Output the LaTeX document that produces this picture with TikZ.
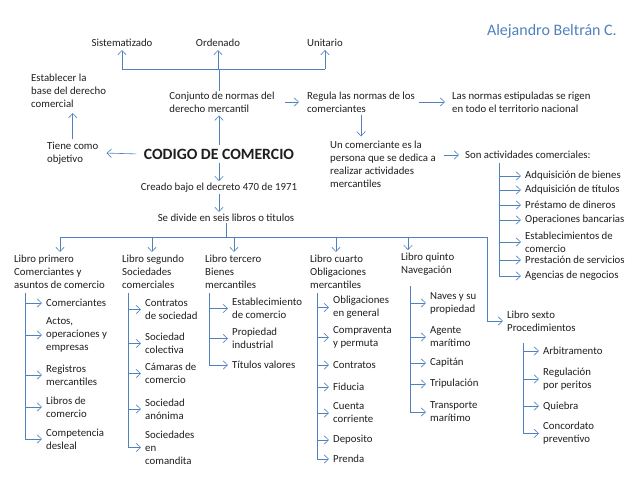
\documentclass[tikz,border=0pt]{standalone}
\usepackage{fontspec}
\setmainfont{Carlito}
\usetikzlibrary{arrows.meta,positioning,calc}
\definecolor{link}{HTML}{4F81BD}
\definecolor{ink}{HTML}{1E1E1E}
\definecolor{author}{HTML}{4F81BD}
\tikzset{
  txt/.style={anchor=west, align=left, inner xsep=4pt, inner ysep=1pt,
              font=\fontsize{10.8}{13}\selectfont, text=ink},
  mid/.style={txt, anchor=center},
  arrow/.style={-{Straight Barb[length=1.6mm,width=3mm]}, line width=0.6pt, draw=link},
  trunk/.style={line width=1pt, draw=link}
}

\begin{document}
\begin{tikzpicture}[x=1pt,y=-1pt]
  \useasboundingbox (0,0) rectangle (638,479);

  \node[anchor=east, font=\fontsize{16}{18}\selectfont, text=author, inner sep=0pt] (autor) at (617,31) {Alejandro Beltrán C.};

  % centre of the map
  \node[font=\fontsize{15.7}{18}\selectfont\bfseries, text=ink] (codigo) at (219,154) {CODIGO DE COMERCIO};
  \node[mid] (conj) at (222,102) {Conjunto de normas del\\derecho mercantil};
  \node[mid] (sist) at (122,43) {Sistematizado};
  \node[mid] (orden) at (218,43) {Ordenado};
  \node[mid] (unit) at (325,43) {Unitario};
  \coordinate (topbar) at (219,69);
  \draw[trunk] (codigo.north |- conj.north) -- (topbar);
  \draw[trunk] (sist |- topbar) -- (unit |- topbar);
  \foreach \n in {sist,orden,unit}
    {\draw[arrow,shorten >=2pt] (\n |- topbar) -- (\n.south);}
  \draw[arrow,shorten >=2pt] (codigo.north) -- (codigo.north |- conj.south);

  \node[txt] (tiene) at (43,153) {Tiene como\\objetivo};
  \node[txt] (estab) at (27,91) {Establecer la\\base del derecho\\comercial};
  \draw[arrow,shorten >=4pt,shorten <=4pt] (codigo.west) -- (tiene.east);
  \draw[arrow,shorten >=4pt,shorten <=2pt] (tiene.north) -- (tiene.north |- estab.south);

  \node[txt] (regula) at (303,102) {Regula las normas de los\\comerciantes};
  \node[txt] (normas) at (448,102) {Las normas estipuladas se rigen\\en todo el territorio nacional};
  \draw[arrow,shorten >=4pt,shorten <=6pt] (conj.east) -- (regula.west);
  \draw[arrow,shorten >=3pt] (regula.east) -- (normas.west);

  \node[txt] (comer) at (326,164) {Un comerciante es la\\persona que se dedica a\\realizar actividades\\mercantiles};
  \node[txt] (son) at (461,155) {Son actividades comerciales:};
  \draw[arrow,shorten >=3pt,shorten <=2pt] (regula.south) -- (regula.south |- comer.north);
  \draw[arrow,shorten >=2pt,shorten <=4pt] (comer.east |- son) -- (son.west);

  % actividades comerciales
  \coordinate (acttrunk) at (499,163);
  \foreach \y/\lab [count=\k] in {176/Adquisición de bienes, 190/Adquisición de títulos,
      205/Préstamo de dineros, 220/Operaciones bancarias, 242/{Establecimientos de\\comercio},
      260/Prestación de servicios, 276/Agencias de negocios} {
    \node[txt] (act\k) at (521,\y) {\lab};
    \draw[arrow] (acttrunk |- act\k.west) -- (act\k.west);
  }
  \draw[trunk] (acttrunk) -- (acttrunk |- act7.west);

  \node[mid] (creado) at (219,188) {Creado bajo el decreto 470 de 1971};
  \node[mid] (divide) at (226,218) {Se divide en seis libros o titulos};
  \draw[arrow,shorten >=1pt] (codigo.south) -- (creado.north);
  \draw[arrow,shorten >=1pt] (creado.south) -- (creado.south |- divide.north);

  % libros
  \node[txt] (l1) at (10,272) {Libro primero\\Comerciantes y\\asuntos de comercio};
  \node[txt] (l2) at (118,272) {Libro segundo\\Sociedades\\comerciales};
  \node[txt] (l3) at (201,272) {Libro tercero\\Bienes\\mercantiles};
  \node[txt] (l4) at (306,272) {Libro cuarto\\Obligaciones\\mercantiles};
  \node[txt] (l5) at (397,264.5) {Libro quinto\\Navegación};
  \node[txt] (l6) at (503,321) {Libro sexto\\Procedimientos};

  \coordinate (hub) at (225,237);
  \coordinate (corner) at (487,237);
  \draw[trunk] (divide.south) -- (divide.south |- hub);
  \foreach \i/\x in {1/60,2/152,3/234,4/336,5/408} {
    \coordinate (drop\i) at (\x,237);
    \draw[arrow,shorten >=2pt] (drop\i) -- (drop\i |- l\i.north);
  }
  \draw[trunk] (drop1) -- (corner) -- (corner |- l6.west);
  \draw[arrow] (corner |- l6.west) -- (l6.west);

  % libro primero
  \coordinate (t1) at (25,293);
  \foreach \y/\lab [count=\k] in {303/Comerciantes, 335/{Actos,\\operaciones y\\empresas},
      375/{Registros\\mercantiles}, 407/{Libros de\\comercio}, 439/{Competencia\\desleal}} {
    \node[txt] (p1-\k) at (42,\y) {\lab};
    \draw[arrow] (t1 |- p1-\k.west) -- (p1-\k.west);
  }
  \draw[trunk] (t1) -- (t1 |- p1-5.west);

  % libro segundo
  \coordinate (t2) at (128,293);
  \foreach \y/\lab [count=\k] in {309.5/{Contratos\\de sociedad}, 343.5/{Sociedad\\colectiva},
      373.5/{Cámaras de\\comercio}, 409/{Sociedad\\anónima}, 447.5/{Sociedades\\en\\comandita}} {
    \node[txt] (p2-\k) at (141,\y) {\lab};
    \draw[arrow] (t2 |- p2-\k.west) -- (p2-\k.west);
  }
  \draw[trunk] (t2) -- (t2 |- p2-5.west);

  % libro tercero
  \coordinate (t3) at (209,293);
  \foreach \y/\lab [count=\k] in {308.5/{Establecimiento\\de comercio},
      338.5/{Propiedad\\industrial}, 365/Títulos valores} {
    \node[txt] (p3-\k) at (228,\y) {\lab};
    \draw[arrow] (t3 |- p3-\k.west) -- (p3-\k.west);
  }
  \draw[trunk] (t3) -- (t3 |- p3-3.west);

  % libro cuarto
  \coordinate (t4) at (317,293);
  \foreach \y/\lab [count=\k] in {307.5/{Obligaciones\\en general}, 337.5/{Compraventa\\y permuta},
      365/Contratos, 387/Fiducia, 413/{Cuenta\\corriente}, 440/Deposito, 459/Prenda} {
    \node[txt] (p4-\k) at (329,\y) {\lab};
    \draw[arrow] (t4 |- p4-\k.west) -- (p4-\k.west);
  }
  \draw[trunk] (t4) -- (t4 |- p4-7.west);

  % libro quinto
  \coordinate (t5) at (410,286);
  \foreach \y/\lab [count=\k] in {303/{Naves y su\\propiedad}, 337/{Agente\\marítimo},
      363/Capitán, 384/Tripulación, 412/{Transporte\\marítimo}} {
    \node[txt] (p5-\k) at (426,\y) {\lab};
    \draw[arrow] (t5 |- p5-\k.west) -- (p5-\k.west);
  }
  \draw[trunk] (t5) -- (t5 |- p5-5.west);

  % libro sexto
  \coordinate (t6) at (523,343);
  \foreach \y/\lab [count=\k] in {351/Arbitramento, 379/{Regulación\\por peritos},
      406/Quiebra, 433.5/{Concordato\\preventivo}} {
    \node[txt] (p6-\k) at (539,\y) {\lab};
    \draw[arrow] (t6 |- p6-\k.west) -- (p6-\k.west);
  }
  \draw[trunk] (t6) -- (t6 |- p6-4.west);
\end{tikzpicture}
\end{document}
